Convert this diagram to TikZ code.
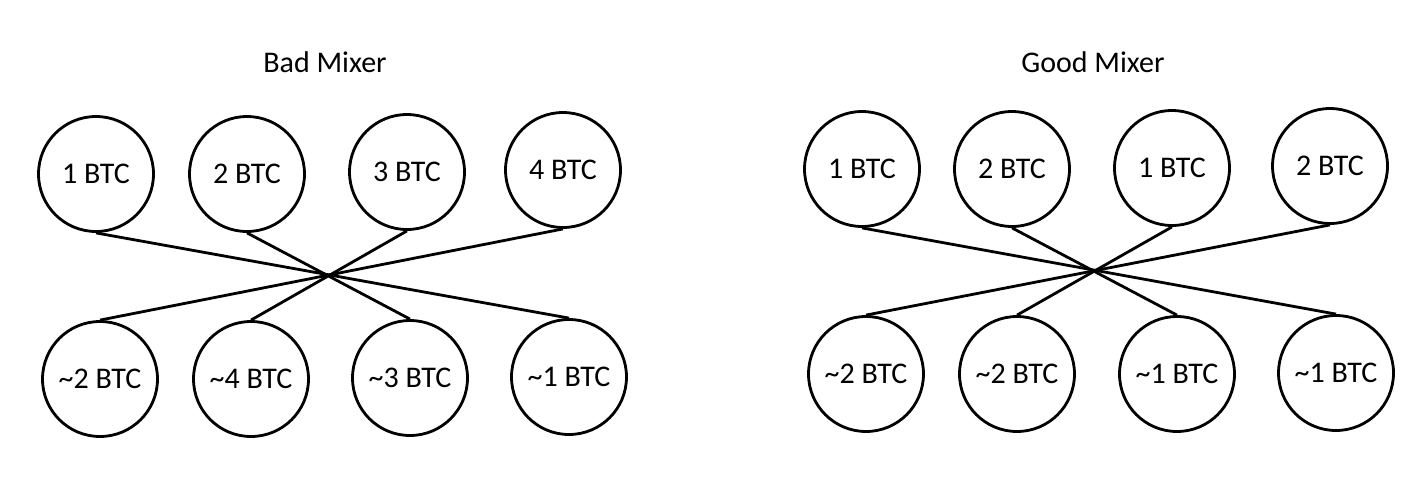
\documentclass[tikz,border=0pt]{standalone}
\usepackage{fontspec}
\setmainfont{Carlito}
\begin{document}
\begin{tikzpicture}[x=1pt,y=-1pt,
  coin/.style={circle,draw=black,line width=2.8pt,minimum size=115pt,inner sep=0pt,
    font=\fontsize{30}{34}\selectfont},
  ttl/.style={font=\fontsize{30}{34}\selectfont},
  link/.style={line width=2.8pt}]
\useasboundingbox (0,0) rectangle (1423,488);
\fill[white] (0,0) rectangle (1423,488);
% Bad mixer
\node[ttl] (tb) at (325,62) {Bad Mixer};
\node[coin] (a1) at (96,174) {1 BTC};
\node[coin] (a2) at (247,174) {2 BTC};
\node[coin] (a3) at (407,172) {3 BTC};
\node[coin] (a4) at (563,170) {4 BTC};
\node[coin] (c1) at (100,379) {\textasciitilde2 BTC};
\node[coin] (c2) at (251,379) {\textasciitilde4 BTC};
\node[coin] (c3) at (410,378) {\textasciitilde3 BTC};
\node[coin] (c4) at (569,377) {\textasciitilde1 BTC};
\draw[link] (a1.south) -- (c4.north);
\draw[link] (a2.south) -- (c3.north);
\draw[link] (a3.south) -- (c2.north);
\draw[link] (a4.south) -- (c1.north);
% Good mixer
\node[ttl] (tg) at (1093,62) {Good Mixer};
\node[coin] (g1) at (862,169) {1 BTC};
\node[coin] (g2) at (1012,169) {2 BTC};
\node[coin] (g3) at (1172,168) {1 BTC};
\node[coin] (g4) at (1330,166) {2 BTC};
\node[coin] (h1) at (866,374) {\textasciitilde2 BTC};
\node[coin] (h2) at (1017,374) {\textasciitilde2 BTC};
\node[coin] (h3) at (1177,374) {\textasciitilde1 BTC};
\node[coin] (h4) at (1336,373) {\textasciitilde1 BTC};
\draw[link] (g1.south) -- (h4.north);
\draw[link] (g2.south) -- (h3.north);
\draw[link] (g3.south) -- (h2.north);
\draw[link] (g4.south) -- (h1.north);
\end{tikzpicture}
\end{document}
